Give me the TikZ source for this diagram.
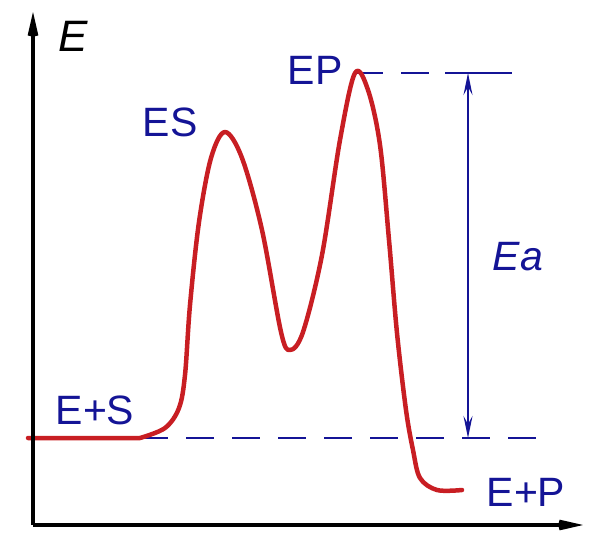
\documentclass[tikz,border=0pt]{standalone}
\usepackage{fontspec}
\setmainfont{Liberation Sans}
\usetikzlibrary{arrows.meta}
\definecolor{lblue}{RGB}{20,20,150}
\definecolor{cred}{RGB}{200,30,35}
\tikzset{
  lbl/.style={text=lblue, inner sep=0pt, font=\fontsize{41}{48}\selectfont},
  axis/.style={line width=3.2pt, black, -{Stealth[length=48pt,width=22pt,inset=30pt]}},
  guide/.style={lblue, line width=2pt, dash pattern=on 28pt off 18pt},
  curve/.style={cred, line width=4.5pt, line join=round, line cap=round},
  ea/.style={lblue, line width=2pt, {Stealth[length=22pt,width=9pt,inset=8pt]}-{Stealth[length=22pt,width=9pt,inset=8pt]}}
}
\begin{document}
\begin{tikzpicture}[x=1pt,y=-1pt]
\useasboundingbox (0,0) rectangle (608,558);
% coordinates
\coordinate (O) at (33,525);
\coordinate (ytop) at (33,12);
\coordinate (xend) at (583,525);
\coordinate (dl1) at (140,438);
\coordinate (dl2) at (542,438);
\coordinate (dt1) at (355,73);
\coordinate (dt2) at (445,73);
\coordinate (dt3) at (512,73);
\coordinate (atop) at (468,73);
\coordinate (abot) at (468,438);
% guides
\draw[guide] (dl1) -- (dl2);
\draw[guide] (dt1) -- (dt2);
\draw[lblue, line width=2pt] (dt2) -- (dt3);
\draw[ea] (abot) -- (atop);
% curve
\draw[curve] (28,438) -- (140,438) -- plot[smooth, tension=0.55] coordinates {
 (140,438) (165,428) (179,408) (185,375) (190,305) (199,222) (211,158) (225,132)
 (242,158) (262,230) (281,332) (290,350) (303,332) (322,255) (340,140)
 (355,73) (368,90) (380,145) (389,240) (397,333) (406,410) (413,450)
 (420,478) (437,490) (462,490)};
% axes
\draw[axis] (O) -- (ytop);
\draw[axis] (O) -- (xend);
% labels
\node[lbl, text=black, font=\fontsize{44}{50}\selectfont\itshape] (E) at (73,36) {E};
\node[lbl] (ES) at (170,122) {ES};
\node[lbl] (EP) at (315,70) {EP};
\node[lbl] (ESS) at (95,410) {E+S};
\node[lbl] (EPP) at (526,492) {E+P};
\node[lbl, font=\fontsize{41}{48}\selectfont\itshape] (Ea) at (518,257) {Ea};
\end{tikzpicture}
\end{document}
